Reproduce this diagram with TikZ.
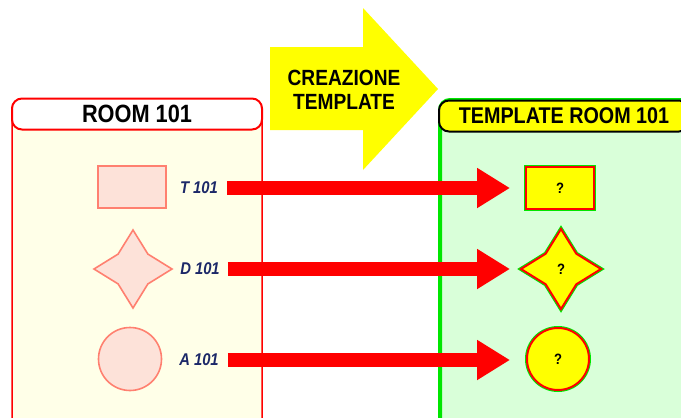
\documentclass[tikz,border=0pt]{standalone}
\usepackage{fontspec}
\setmainfont{Liberation Sans}
\newfontfamily\narrowsf[FakeStretch=0.87]{Liberation Sans}
\usetikzlibrary{arrows.meta,shapes.geometric}
\definecolor{roomred}{RGB}{255,0,0}
\definecolor{roombody}{RGB}{255,255,232}
\definecolor{shapefill}{RGB}{253,226,217}
\definecolor{shapeline}{RGB}{255,128,112}
\definecolor{tplbody}{RGB}{217,255,217}
\definecolor{tplgreen}{RGB}{0,230,0}
\definecolor{tplyellow}{RGB}{255,255,0}
\definecolor{labelnavy}{RGB}{28,40,104}

\begin{document}
\begin{tikzpicture}[x=1pt, y=-1pt,
    head/.style={draw, line width=2pt, rounded corners=10pt, minimum height=31pt, inner sep=0pt, font=\narrowsf\fontsize{25}{28}\selectfont\bfseries},
    roomshape/.style={draw=shapeline, line width=1.6pt, fill=shapefill, inner sep=0pt},
    tplshape/.style={draw=roomred, line width=2pt, fill=tplyellow, inner sep=0pt, font=\narrowsf\fontsize{15}{17}\selectfont\bfseries, preaction={draw=tplgreen, line width=4pt}},
    tag/.style={text=labelnavy, font=\narrowsf\fontsize{17}{19}\selectfont\bfseries\itshape, inner sep=1pt},
    link/.style={roomred, line width=14pt, -{Triangle[length=33pt, width=38pt]}},
]
    \useasboundingbox (0,0) rectangle (681,418);
    \clip (0,0) rectangle (681,418);

    % left panel
    \draw[roomred, line width=1.5pt, fill=roombody, rounded corners=10pt] (12,99) rectangle (262,445);
    \node[head, draw=roomred, fill=white, minimum width=250pt] (roomhead) at (137,114) {ROOM 101};

    % right panel
    \draw[tplgreen, line width=4pt, fill=tplbody, rounded corners=10pt] (440,100) rectangle (720,445);
    \node[head, draw=black, fill=tplyellow, minimum width=250pt, font=\narrowsf\fontsize{22.7}{25}\selectfont\bfseries] (tplhead) at (564,116) {TEMPLATE ROOM 101};

    % big arrow
    \fill[tplyellow] (270,47) -- (363,47) -- (363,8) -- (438,89) -- (363,170) -- (363,130) -- (270,130) -- cycle;
    \node[align=center, font=\narrowsf\fontsize{22}{23.5}\selectfont\bfseries] (creaz) at (344,90) {CREAZIONE\\TEMPLATE};

    % room shapes
    \node[roomshape, rectangle, minimum width=68pt, minimum height=42pt] (rt) at (132,187) {};
    \node[roomshape, star, star points=4, star point ratio=1.85, minimum size=78pt] (rd) at (133,269) {};
    \node[roomshape, circle, minimum size=63pt] (ra) at (130,359) {};

    \node[tag] (lt) at (199,188) {T 101};
    \node[tag] (ld) at (200,269) {D 101};
    \node[tag] (la) at (199,360) {A 101};

    % template shapes
    \node[tplshape, rectangle, minimum width=68pt, minimum height=42pt] (qt) at (560,188) {?};
    \node[tplshape, star, star points=4, star point ratio=1.85, minimum size=80pt] (qd) at (561,269) {?};
    \node[tplshape, circle, minimum size=62pt] (qa) at (558,359) {?};

    \coordinate (tipline) at (510,0);
    \draw[link] ([xshift=8pt]lt.east) -- (lt.east -| tipline);
    \draw[link] ([xshift=7pt]ld.east) -- (ld.east -| tipline);
    \draw[link] ([xshift=8pt]la.east) -- (la.east -| tipline);
\end{tikzpicture}
\end{document}
